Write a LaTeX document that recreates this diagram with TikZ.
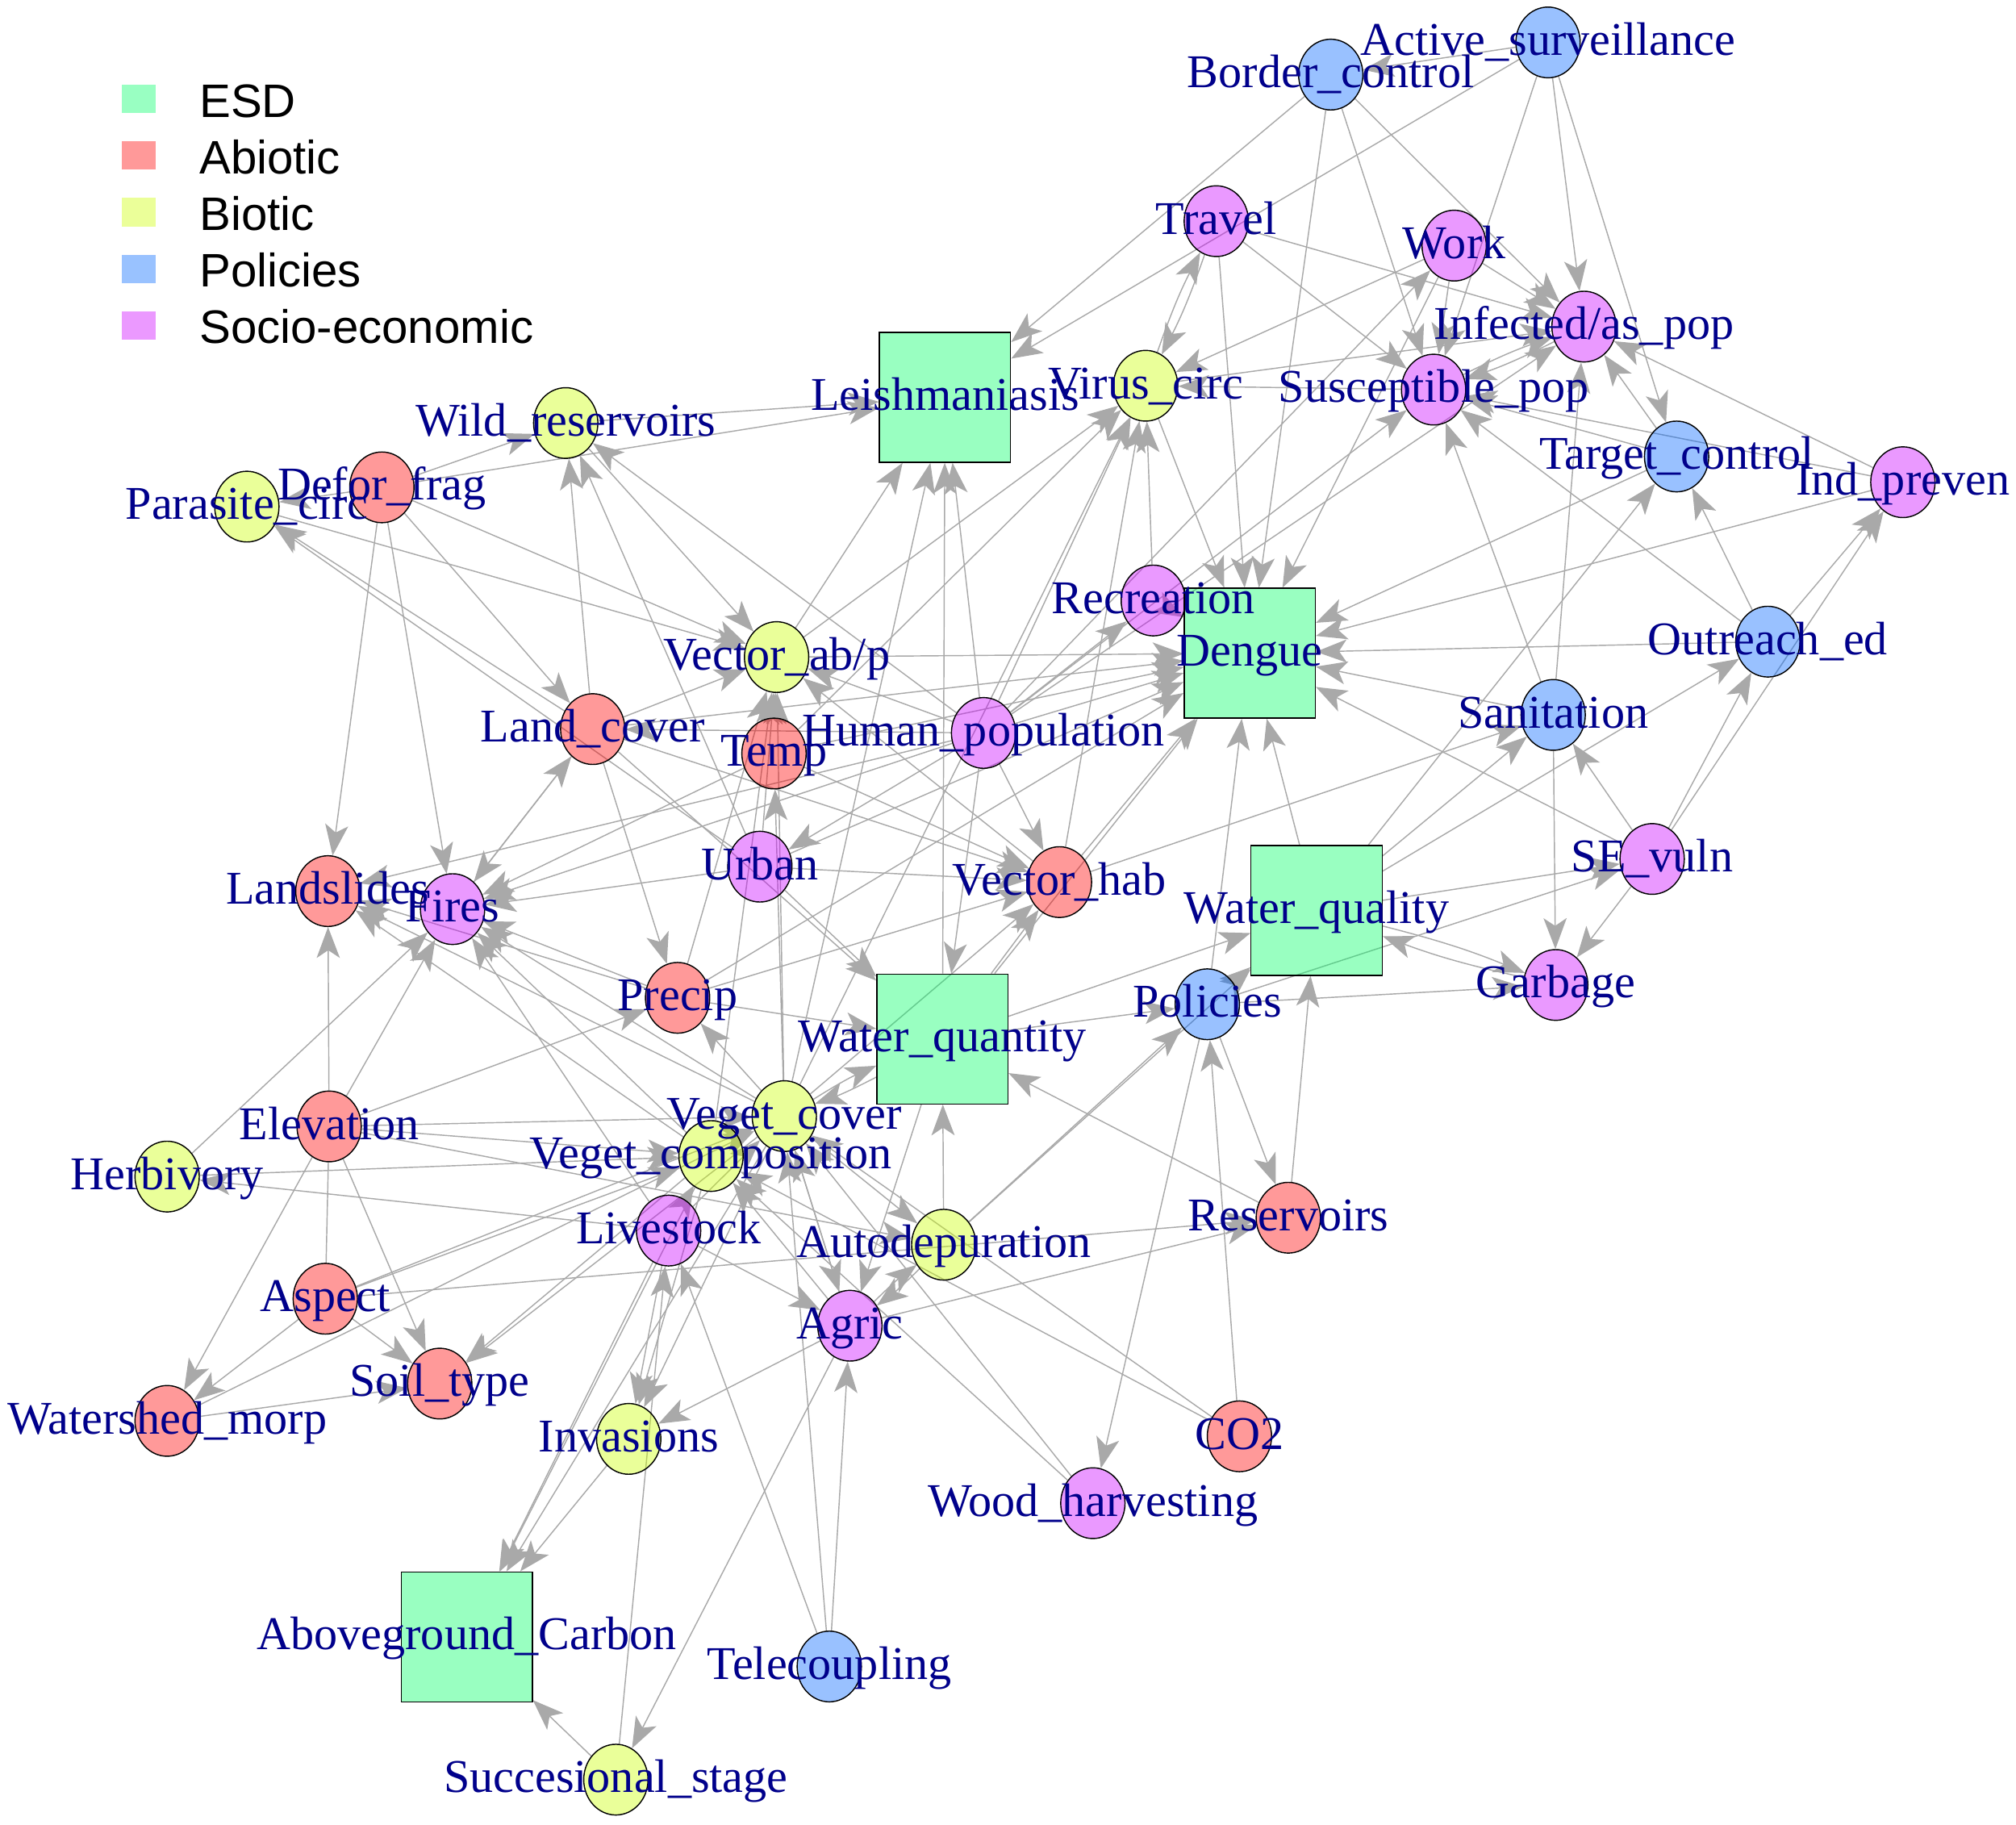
\documentclass[tikz,border=0pt]{standalone}
\usepackage{fontspec}
\setmainfont{Liberation Serif}
\newfontfamily\legfont{Liberation Sans}
\usetikzlibrary{shapes.geometric,arrows.meta}
\pgfdeclarelayer{bglayer}
\pgfdeclarelayer{edgelayer}
\pgfsetlayers{bglayer,edgelayer,main}
\definecolor{cESD}{HTML}{00FF66}
\definecolor{cAbio}{HTML}{FF0000}
\definecolor{cBio}{HTML}{CCFF00}
\definecolor{cPol}{HTML}{0066FF}
\definecolor{cSoc}{HTML}{CC00FF}
\definecolor{lESD}{HTML}{99FFC2}
\definecolor{lAbio}{HTML}{FF9999}
\definecolor{lBio}{HTML}{EBFF99}
\definecolor{lPol}{HTML}{99C2FF}
\definecolor{lSoc}{HTML}{EB99FF}
\definecolor{labcol}{HTML}{00008B}
\definecolor{edgecol}{HTML}{A9A9A9}
\tikzset{
  vtx/.style={ellipse, draw=black, line width=0.9pt, minimum width=50pt, minimum height=55pt, inner sep=0pt, fill opacity=0.4},
  abio/.style={vtx, fill=cAbio},
  bio/.style={vtx, fill=cBio},
  pol/.style={vtx, fill=cPol},
  soc/.style={vtx, fill=cSoc},
  esd/.style={rectangle, draw=black, line width=0.9pt, minimum width=102pt, minimum height=101pt, inner sep=0pt, fill=cESD, fill opacity=0.4},
  lbl/.style={text=labcol, inner sep=0pt, anchor=base, font=\fontsize{36.5pt}{40pt}\selectfont},
  legsq/.style={minimum width=26pt, minimum height=22pt, inner sep=0pt},
  legtxt/.style={anchor=base west, inner sep=0pt, font=\legfont\fontsize{36.5pt}{40pt}\selectfont},
  ed/.style={draw=edgecol, line width=0.9pt, -{Stealth[length=24pt,width=18pt,inset=6pt]}},
  edl/.style={ed, bend left=4},
  plain/.style={draw=edgecol, line width=0.9pt},
}
\newcommand{\lab}[2]{\node[lbl] at ([yshift=-10pt]#1.center) {#2};}
\begin{document}
\begin{tikzpicture}[x=1pt,y=-1pt]
\useasboundingbox (0,0) rectangle (1568,1419);
\begin{pgfonlayer}{bglayer}
\fill[white] (0,0) rectangle (1568,1419);
\end{pgfonlayer}
% legend
\node[legsq, fill=lESD] (lg1) at (108,77) {};
\node[legsq, fill=lAbio] (lg2) at (108,121) {};
\node[legsq, fill=lBio] (lg3) at (108,165) {};
\node[legsq, fill=lPol] (lg4) at (108,209) {};
\node[legsq, fill=lSoc] (lg5) at (108,253) {};
\node[legtxt] (lt1) at (155,91) {ESD};
\node[legtxt] (lt2) at (155,135) {Abiotic};
\node[legtxt] (lt3) at (155,179) {Biotic};
\node[legtxt] (lt4) at (155,223) {Policies};
\node[legtxt] (lt5) at (155,267) {Socio-economic};
% vertices
\node[pol] (as) at (1204,33) {};
\node[pol] (bc) at (1035,58) {};
\node[soc] (tr) at (946,172) {};
\node[soc] (wo) at (1131,191) {};
\node[soc] (inf) at (1232,254) {};
\node[soc] (sus) at (1115,303) {};
\node[bio] (vir) at (891,300) {};
\node[esd] (lei) at (735,309) {};
\node[bio] (wr) at (440,329) {};
\node[abio] (df) at (297,379) {};
\node[bio] (pc) at (192,394) {};
\node[pol] (tc) at (1304,355) {};
\node[soc] (ip) at (1480,375) {};
\node[soc] (rec) at (897,467) {};
\node[esd] (den) at (972,508) {};
\node[pol] (oe) at (1375,499) {};
\node[bio] (vab) at (604,511) {};
\node[abio] (lc) at (461,567) {};
\node[abio] (tmp) at (602,586) {};
\node[soc] (hp) at (765,570) {};
\node[pol] (san) at (1208,556) {};
\node[soc] (urb) at (591,674) {};
\node[abio] (vh) at (824,686) {};
\node[esd] (wql) at (1024,708) {};
\node[soc] (sev) at (1285,668) {};
\node[abio] (ls) at (255,693) {};
\node[soc] (fir) at (352,707) {};
\node[abio] (pre) at (527,776) {};
\node[soc] (gar) at (1210,766) {};
\node[esd] (wqn) at (733,808) {};
\node[pol] (pol) at (939,781) {};
\node[bio] (vc) at (610,868) {};
\node[bio] (vcomp) at (553,899) {};
\node[abio] (ele) at (256,876) {};
\node[bio] (her) at (130,915) {};
\node[soc] (liv) at (520,957) {};
\node[bio] (aut) at (734,968) {};
\node[abio] (res) at (1002,947) {};
\node[abio] (asp) at (253,1010) {};
\node[soc] (agr) at (661,1031) {};
\node[abio] (soil) at (342,1076) {};
\node[abio] (wm) at (130,1105) {};
\node[bio] (inv) at (489,1119) {};
\node[abio] (co2) at (964,1117) {};
\node[soc] (wh) at (850,1169) {};
\node[esd] (agc) at (363,1273) {};
\node[pol] (tel) at (645,1296) {};
\node[bio] (ss) at (479,1384) {};
% edges
\begin{pgfonlayer}{edgelayer}
\foreach \a/\b in {as/bc,as/lei,as/inf,as/tc,as/sus,
  bc/lei,bc/den,bc/sus,bc/inf,
  tr/den,tr/inf,tr/sus,
  wo/inf,wo/vir,wo/den,wo/sus,hp/wo,
  tc/inf,tc/sus,tc/den,ip/inf,ip/sus,ip/den,
  oe/den,oe/ip,oe/sus,oe/tc,san/inf,san/den,san/gar,san/sus,
  sev/san,sev/oe,sev/ip,sev/den,sev/gar,
  wql/san,vh/san,wql/sev,wql/den,wql/tc,wql/oe,
  pol/gar,pol/wql,pol/den,pol/res,pol/wh,pol/sev,
  res/wql,res/wqn,co2/pol,co2/vc,co2/vcomp,
  vir/den,vir/inf,sus/vir,hp/inf,
  df/pc,df/wr,df/lei,df/ls,df/fir,df/lc,df/vab,
  wr/lei,wr/vab,lc/wr,lc/pc,urb/pc,urb/wr,hp/wr,pc/vab,
  lc/fir,lc/vab,lc/vh,lc/wqn,lc/den,lc/pre,
  hp/lei,hp/vir,hp/den,hp/rec,hp/urb,hp/vh,hp/fir,hp/ls,hp/wqn,hp/sus,hp/vab,hp/lc,
  vab/lei,vab/den,vab/vir,
  tmp/vab,tmp/vir,tmp/den,tmp/vh,tmp/fir,
  urb/vab,urb/den,urb/vh,urb/wqn,urb/fir,
  rec/vir,rec/den,vh/vab,vh/den,vh/vir,
  pre/vab,pre/vh,pre/den,pre/ls,pre/fir,pre/wqn,
  fir/lc,ele/ls,ele/fir,ele/pre,ele/vc,ele/vcomp,ele/soil,ele/wm,ele/aut,
  asp/soil,asp/wm,asp/vc,asp/vcomp,asp/res,liv/her,her/vcomp,her/fir,wm/soil,wm/vc,
  vc/soil,vcomp/soil,liv/vc,liv/vcomp,liv/agr,liv/fir,liv/inv,liv/agc,
  vc/agc,vcomp/agc,inv/agc,ss/agc,ss/liv,vc/inv,vcomp/inv,agr/inv,
  agr/ss,agr/vc,agr/vcomp,agr/res,tel/agr,tel/liv,tel/vc,wh/vc,wh/vcomp,
  aut/wqn,aut/wql,aut/pol,vc/aut,vc/vh,vc/tmp,vc/pre,vc/fir,vc/ls,vc/lei,vc/vab,vc/vir,vc/agr,
  vcomp/fir,vcomp/ls,vcomp/vab,
  wqn/lei,wqn/den,wqn/pol,wqn/vh,wqn/wql,wqn/agr}
  \draw[ed] (\a) -- (\b);
\foreach \a/\b in {tr/vir,vir/tr,sus/inf,inf/sus,gar/wql,wql/gar,vc/wqn,wqn/vc,aut/agr,agr/aut}
  \draw[edl] (\a) to (\b);
\draw[plain] (ele) -- (asp);
\end{pgfonlayer}
% labels
\lab{as}{Active\_surveillance}
\lab{bc}{Border\_control}
\lab{tr}{Travel}
\lab{wo}{Work}
\lab{inf}{Infected/as\_pop}
\lab{sus}{Susceptible\_pop}
\lab{vir}{Virus\_circ}
\lab{lei}{Leishmaniasis}
\lab{wr}{Wild\_reservoirs}
\lab{df}{Defor\_frag}
\lab{pc}{Parasite\_circ}
\lab{tc}{Target\_control}
\lab{ip}{Ind\_preven}
\lab{rec}{Recreation}
\lab{den}{Dengue}
\lab{oe}{Outreach\_ed}
\lab{vab}{Vector\_ab/p}
\lab{lc}{Land\_cover}
\lab{tmp}{Temp}
\lab{hp}{Human\_population}
\lab{san}{Sanitation}
\lab{urb}{Urban}
\lab{vh}{Vector\_hab}
\lab{wql}{Water\_quality}
\lab{sev}{SE\_vuln}
\lab{ls}{Landslides}
\lab{fir}{Fires}
\lab{pre}{Precip}
\lab{gar}{Garbage}
\lab{wqn}{Water\_quantity}
\lab{pol}{Policies}
\lab{vc}{Veget\_cover}
\lab{vcomp}{Veget\_composition}
\lab{ele}{Elevation}
\lab{her}{Herbivory}
\lab{liv}{Livestock}
\lab{aut}{Autodepuration}
\lab{res}{Reservoirs}
\lab{asp}{Aspect}
\lab{agr}{Agric}
\lab{soil}{Soil\_type}
\lab{wm}{Watershed\_morp}
\lab{inv}{Invasions}
\lab{co2}{CO2}
\lab{wh}{Wood\_harvesting}
\lab{agc}{Aboveground\_Carbon}
\lab{tel}{Telecoupling}
\lab{ss}{Succesional\_stage}
\end{tikzpicture}
\end{document}
